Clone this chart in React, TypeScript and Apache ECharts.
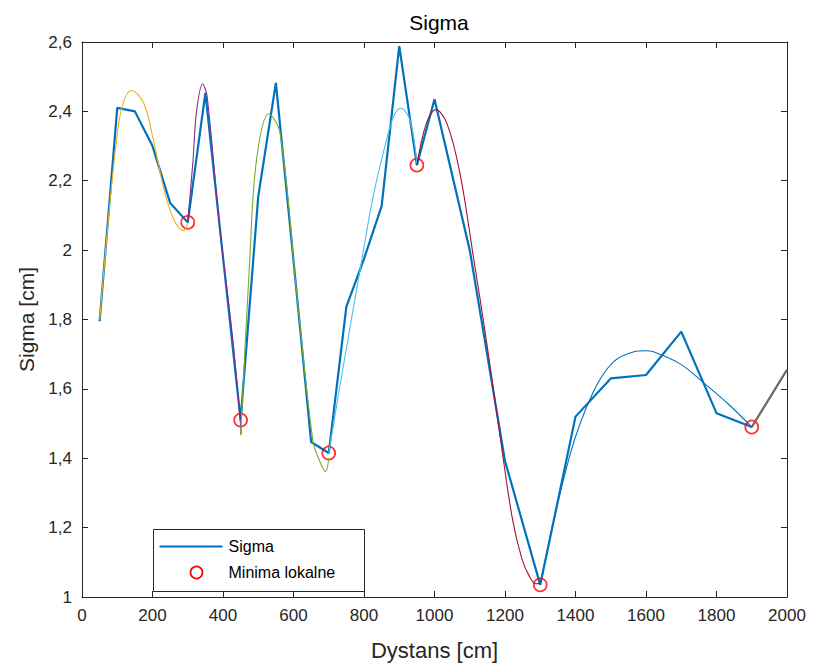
import React, { useEffect, useRef } from "react";
import * as echarts from "echarts";

// Measured sigma vs. distance
const distance = [50, 100, 150, 200, 250, 300, 350, 400, 450, 500, 550, 600, 650, 700, 750, 800, 850, 900, 950, 1000, 1100, 1200, 1300, 1400, 1500, 1600, 1700, 1800, 1900, 2000];
const sigma = [1.795, 2.41, 2.4, 2.3, 2.136, 2.08, 2.453, 1.98, 1.51, 2.155, 2.482, 1.97, 1.447, 1.415, 1.837, 1.975, 2.127, 2.588, 2.245, 2.435, 2.0, 1.392, 1.035, 1.52, 1.63, 1.64, 1.765, 1.53, 1.49, 1.655];

// Local minima
const minimaX = [300, 450, 700, 950, 1300, 1900];
const minimaY = [2.08, 1.51, 1.415, 2.245, 1.035, 1.49];

// Fitted curves between consecutive minima
const fit1: [number, number][] = [[50, 1.8], [75, 2.09], [95, 2.29], [113, 2.41], [140, 2.46], [175, 2.424], [205, 2.305], [235, 2.165], [265, 2.078], [288, 2.056], [300, 2.078]];
const fit2: [number, number][] = [[300, 2.08], [315, 2.26], [325, 2.4], [342, 2.479], [355, 2.443], [390, 2.07], [428, 1.74], [452, 1.47]];
const fit3: [number, number][] = [[450, 1.466], [476, 1.974], [495, 2.26], [530, 2.393], [562, 2.338], [609, 1.878], [655, 1.45], [675, 1.39], [691, 1.362], [700, 1.4]];
const fit4: [number, number][] = [[700, 1.415], [737, 1.64], [790, 1.95], [826, 2.155], [864, 2.318], [884, 2.385], [904, 2.409], [930, 2.376], [950, 2.25]];
const fit5: [number, number][] = [[950, 2.245], [977, 2.366], [1004, 2.405], [1035, 2.366], [1072, 2.223], [1110, 1.983], [1148, 1.734], [1195, 1.399], [1222, 1.22], [1248, 1.11], [1270, 1.058], [1288, 1.038], [1300, 1.04]];
const fit6: [number, number][] = [[1300, 1.04], [1384, 1.408], [1450, 1.59], [1507, 1.677], [1566, 1.707], [1600, 1.71], [1621, 1.707], [1697, 1.672], [1772, 1.61], [1838, 1.552], [1900, 1.49]];
const fit7: [number, number][] = [[1900, 1.49], [2000, 1.655]];

const fits = [fit1, fit2, fit3, fit4, fit5, fit6, fit7];
const fitColors = ["#EDB120", "#7E2F8E", "#77AC30", "#4DBEEE", "#A2142F", "#0072BD", "#D95319"];

const FONT = "'Liberation Sans', Arial, sans-serif";
const AXIS_COLOR = "#262626";

export default function App() {
  const ref = useRef<HTMLDivElement>(null);

  useEffect(() => {
    if (!ref.current) return;
    const chart = echarts.init(ref.current, undefined, { renderer: "svg" });

    const fmtY = (v: number) => String(Number(v.toFixed(1))).replace(".", ",");
    const fmtX = (v: number) => String(Math.round(v));

    const xBase = {
      type: "value" as const,
      min: 0,
      max: 2000,
      interval: 200,
      axisLine: { show: true, onZero: false, lineStyle: { color: AXIS_COLOR, width: 1 } },
      axisTick: { show: true, inside: true, length: 6, lineStyle: { color: AXIS_COLOR } },
      splitLine: { show: false },
    };
    const yBase = {
      type: "value" as const,
      min: 1,
      max: 2.6,
      interval: 0.2,
      axisLine: { show: true, onZero: false, lineStyle: { color: AXIS_COLOR, width: 1 } },
      axisTick: { show: true, inside: true, length: 6, lineStyle: { color: AXIS_COLOR } },
      splitLine: { show: false },
    };

    const series: any[] = [
      {
        name: "Sigma",
        type: "line",
        data: distance.map((d, i) => [d, sigma[i]]),
        showSymbol: false,
        lineStyle: { color: "#0072BD", width: 2.2 },
        z: 2,
      },
      {
        name: "Minima lokalne",
        type: "scatter",
        data: minimaX.map((d, i) => [d, minimaY[i]]),
        symbol: "circle",
        symbolSize: 13,
        itemStyle: { color: "rgba(0,0,0,0)", borderColor: "#FF0000", borderWidth: 1.7 },
        z: 3,
      },
      ...fits.map((f, i) => ({
        type: "line",
        data: f,
        showSymbol: false,
        smooth: 0.35,
        lineStyle: { color: fitColors[i], width: 1.1 },
        z: 4,
      })),
    ];

    chart.setOption({
      animation: false,
      backgroundColor: "#ffffff",
      textStyle: { fontFamily: FONT },
      title: {
        text: "Sigma",
        left: 434,
        top: 7,
        textAlign: "center",
        textStyle: { fontFamily: FONT, fontSize: 21, fontWeight: "normal", color: "#000000" },
      },
      grid: { left: 82, right: 26, top: 42, bottom: 67, containLabel: false },
      xAxis: [
        {
          ...xBase,
          position: "bottom",
          name: "Dystans [cm]",
          nameLocation: "middle",
          nameGap: 42,
          nameTextStyle: { fontFamily: FONT, fontSize: 22, color: AXIS_COLOR },
          axisLabel: { show: true, margin: 10, fontFamily: FONT, fontSize: 17, color: AXIS_COLOR, formatter: fmtX },
        },
        { ...xBase, position: "top", axisLabel: { show: false } },
      ],
      yAxis: [
        {
          ...yBase,
          position: "left",
          name: "Sigma [cm]",
          nameLocation: "middle",
          nameGap: 45,
          nameTextStyle: { fontFamily: FONT, fontSize: 21, color: AXIS_COLOR },
          axisLabel: { show: true, margin: 10, fontFamily: FONT, fontSize: 17, color: AXIS_COLOR, formatter: fmtY },
        },
        { ...yBase, position: "right", axisLabel: { show: false } },
      ],
      graphic: [
        {
          type: "group",
          left: 153,
          top: 529,
          children: [
            { type: "rect", shape: { x: 0, y: 0, width: 211, height: 62 }, style: { fill: "#ffffff", stroke: AXIS_COLOR, lineWidth: 1 } },
            { type: "line", shape: { x1: 6, y1: 17, x2: 69, y2: 17 }, style: { stroke: "#0072BD", lineWidth: 2.2 } },
            { type: "text", x: 75, y: 17, style: { text: "Sigma", font: `16px ${FONT}`, fill: "#000000", verticalAlign: "middle" } },
            { type: "circle", shape: { cx: 43, cy: 43, r: 6 }, style: { fill: "none", stroke: "#FF0000", lineWidth: 1.7 } },
            { type: "text", x: 75, y: 43, style: { text: "Minima lokalne", font: `16px ${FONT}`, fill: "#000000", verticalAlign: "middle" } },
          ],
        },
      ],
      series,
    });

    return () => chart.dispose();
  }, []);

  return <div ref={ref} style={{ position: "fixed", left: 0, top: 0, width: 813, height: 666 }} />;
}
